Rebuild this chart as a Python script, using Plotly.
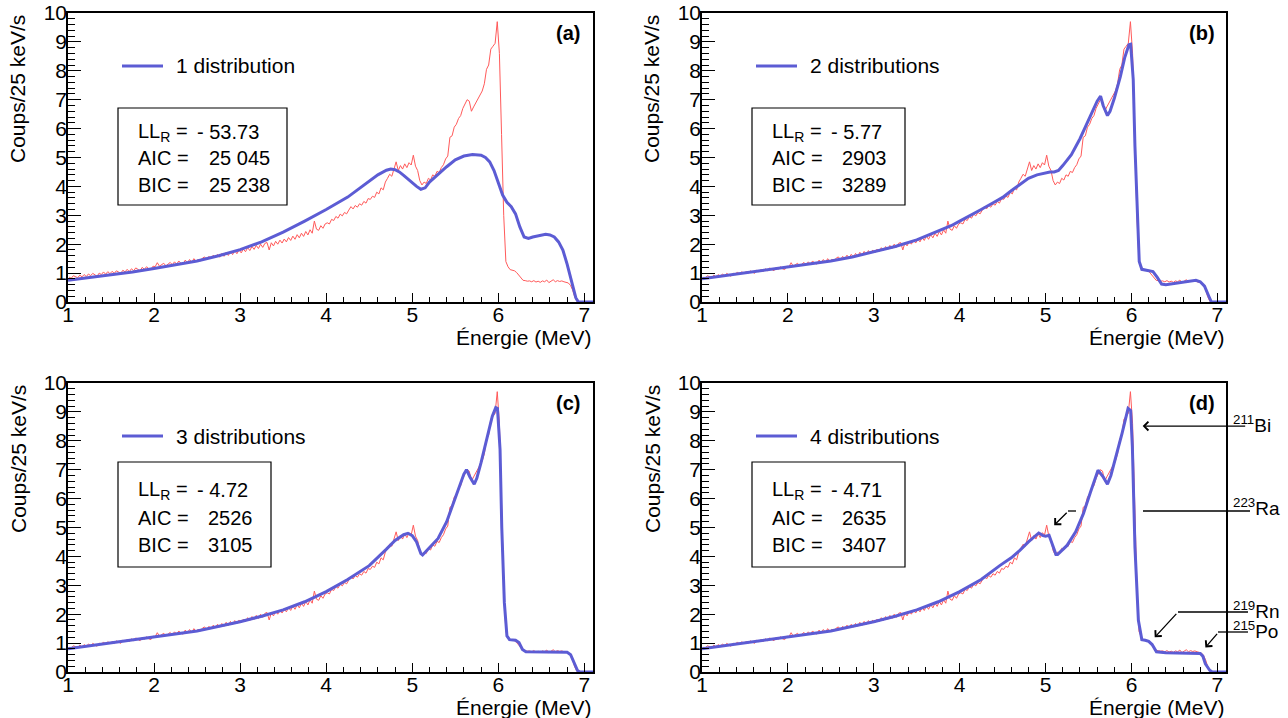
import numpy as np
import plotly.graph_objects as go

# ---------------- DATA ----------------
bin_start = 1.0
bin_width = 0.025  # 25 keV bins

# measured spectrum (counts / 25 keV / s), bins from 1.0 to 7.0 MeV
red_counts = [
    0.86, 0.82, 0.91, 0.86, 0.84, 0.93, 0.87, 0.95, 0.88, 0.97, 0.91, 0.99, 0.93, 0.89, 1.00, 0.95, 1.04, 0.96, 1.05, 0.98,
    1.06, 0.99, 1.08, 1.02, 0.99, 1.10, 1.04, 1.13, 1.05, 1.15, 1.08, 1.18, 1.12, 1.08, 1.20, 1.13, 1.22, 1.15, 1.12, 1.24,
    1.22, 1.36, 1.24, 1.28, 1.34, 1.25, 1.30, 1.37, 1.29, 1.39, 1.31, 1.42, 1.34, 1.31, 1.45, 1.36, 1.47, 1.37, 1.50, 1.40,
    1.48, 1.42, 1.52, 1.56, 1.46, 1.58, 1.50, 1.62, 1.53, 1.65, 1.55, 1.68, 1.58, 1.72, 1.61, 1.75, 1.64, 1.78, 1.67, 1.80,
    1.70, 1.83, 1.74, 1.88, 1.78, 1.92, 1.82, 1.96, 1.85, 2.00, 1.89, 2.03, 2.06, 1.80, 2.05, 1.94, 2.10, 2.00, 2.14, 2.04,
    2.18, 2.08, 2.23, 2.13, 2.28, 2.17, 2.33, 2.22, 2.38, 2.27, 2.44, 2.32, 2.50, 2.38, 2.80, 2.52, 2.48, 2.64, 2.55, 2.70,
    2.74, 2.70, 2.86, 2.82, 2.96, 2.90, 3.04, 2.98, 3.10, 3.05, 3.18, 3.30, 3.22, 3.34, 3.28, 3.40, 3.35, 3.48, 3.42, 3.58,
    3.55, 3.66, 3.62, 3.80, 3.74, 3.95, 3.88, 4.15, 4.28, 4.42, 4.35, 4.62, 4.85, 4.55, 4.72, 4.60, 4.78, 4.65, 4.82, 4.74,
    5.08, 4.70, 4.55, 4.20, 4.05, 4.15, 4.10, 4.28, 4.22, 4.40, 4.35, 4.52, 4.48, 4.65, 4.75, 4.95, 5.05, 5.70, 5.75, 6.05,
    6.15, 6.35, 6.45, 6.70, 6.85, 7.00, 6.95, 6.60, 6.75, 6.90, 7.05, 7.20, 7.30, 7.55, 8.05, 8.20, 8.75, 8.85, 8.95, 9.70,
    8.60, 5.80, 3.00, 1.40, 1.22, 1.12, 1.10, 1.08, 1.02, 0.92, 0.82, 0.75, 0.74, 0.72, 0.73, 0.70, 0.74, 0.69, 0.72, 0.68,
    0.73, 0.70, 0.76, 0.67, 0.72, 0.77, 0.70, 0.74, 0.71, 0.73, 0.70, 0.68, 0.66, 0.58, 0.42, 0.18, 0.02, 0.00, 0.00, 0.00,
]

# fit with 1 distribution
fit1_E = [1.0, 1.25, 1.5, 1.75, 2.0, 2.25, 2.5, 2.75, 3.0, 3.25, 3.5, 3.75, 4.0, 4.25, 4.4, 4.5, 4.6, 4.7, 4.75,
          4.8, 4.85, 4.9, 4.95, 5.0, 5.05, 5.1, 5.15, 5.2, 5.3, 5.4, 5.5, 5.6, 5.7, 5.8, 5.85, 5.9, 5.95, 6.0,
          6.05, 6.1, 6.15, 6.2, 6.25, 6.3, 6.35, 6.4, 6.5, 6.55, 6.6, 6.65, 6.7, 6.75, 6.8, 6.85, 6.9, 6.93, 7.1]
fit1_y = [0.75, 0.84, 0.94, 1.04, 1.16, 1.28, 1.42, 1.60, 1.81, 2.08, 2.42, 2.80, 3.20, 3.63, 3.95, 4.18, 4.40, 4.56, 4.60,
          4.58, 4.50, 4.38, 4.25, 4.12, 4.00, 3.90, 3.95, 4.15, 4.42, 4.68, 4.92, 5.05, 5.10, 5.08, 5.00, 4.85, 4.55, 4.10,
          3.70, 3.45, 3.30, 3.05, 2.60, 2.25, 2.20, 2.25, 2.32, 2.34, 2.32, 2.25, 2.08, 1.80, 1.30, 0.70, 0.15, 0.00, 0.00]

# fit with 2 distributions
fit2_E = [1.0, 1.25, 1.5, 1.75, 2.0, 2.25, 2.5, 2.75, 3.0, 3.25, 3.5, 3.75, 3.9, 4.0, 4.1, 4.25, 4.4, 4.5, 4.6, 4.7,
          4.8, 4.9, 5.0, 5.05, 5.1, 5.15, 5.2, 5.3, 5.4, 5.5, 5.6, 5.64, 5.67, 5.72, 5.75, 5.8, 5.87, 5.92, 5.97, 5.99,
          6.02, 6.04, 6.07, 6.09, 6.12, 6.2, 6.25, 6.3, 6.35, 6.4, 6.5, 6.6, 6.7, 6.75, 6.8, 6.85, 6.9, 6.93, 7.1]
fit2_y = [0.80, 0.90, 1.00, 1.10, 1.20, 1.30, 1.42, 1.56, 1.73, 1.92, 2.15, 2.45, 2.64, 2.80, 2.95, 3.20, 3.45, 3.62, 3.85, 4.08,
          4.28, 4.40, 4.48, 4.50, 4.50, 4.55, 4.72, 5.10, 5.65, 6.30, 6.95, 7.12, 6.80, 6.45, 6.60, 7.05, 7.80, 8.45, 8.90, 8.92,
          7.70, 5.40, 3.10, 1.40, 1.13, 1.08, 1.05, 0.85, 0.62, 0.60, 0.65, 0.70, 0.74, 0.75, 0.70, 0.55, 0.20, 0.00, 0.00]

# fit with 3 distributions
fit3_E = [1.0, 1.5, 2.0, 2.5, 3.0, 3.25, 3.5, 3.75, 4.0, 4.25, 4.5, 4.6, 4.7, 4.8, 4.9, 4.95, 5.0, 5.05, 5.1, 5.12,
          5.2, 5.3, 5.4, 5.5, 5.6, 5.63, 5.67, 5.72, 5.75, 5.8, 5.87, 5.93, 5.97, 5.99, 6.02, 6.04, 6.07, 6.1, 6.13,
          6.2, 6.24, 6.28, 6.32, 6.5, 6.7, 6.8, 6.84, 6.88, 6.92, 6.95, 7.1]
fit3_y = [0.80, 1.00, 1.20, 1.42, 1.74, 1.93, 2.15, 2.43, 2.78, 3.20, 3.68, 3.95, 4.25, 4.55, 4.75, 4.80, 4.72, 4.50, 4.10, 4.05,
          4.30, 4.62, 5.20, 6.05, 6.85, 7.00, 6.75, 6.50, 6.70, 7.25, 8.10, 8.85, 9.15, 9.12, 7.70, 5.00, 2.40, 1.25, 1.12,
          1.10, 1.02, 0.78, 0.70, 0.70, 0.70, 0.68, 0.60, 0.35, 0.05, 0.00, 0.00]

# fit with 4 distributions
fit4_E = [1.0, 1.5, 2.0, 2.5, 3.0, 3.25, 3.5, 3.75, 4.0, 4.25, 4.47, 4.6, 4.7, 4.8, 4.92, 4.97, 5.0, 5.04, 5.08, 5.12,
          5.14, 5.25, 5.35, 5.44, 5.52, 5.61, 5.67, 5.72, 5.76, 5.81, 5.89, 5.96, 5.99, 6.01, 6.04, 6.08, 6.12, 6.16,
          6.2, 6.24, 6.29, 6.4, 6.6, 6.8, 6.83, 6.86, 6.91, 6.94, 7.1]
fit4_y = [0.80, 1.00, 1.20, 1.42, 1.74, 1.93, 2.15, 2.43, 2.78, 3.20, 3.69, 3.95, 4.21, 4.50, 4.81, 4.72, 4.70, 4.73, 4.40, 4.07,
          4.07, 4.38, 4.85, 5.48, 6.20, 6.98, 6.75, 6.50, 6.80, 7.33, 8.26, 9.12, 9.05, 7.79, 4.33, 1.79, 1.12, 1.10,
          1.06, 0.95, 0.70, 0.67, 0.66, 0.64, 0.55, 0.28, 0.06, 0.00, 0.00]

panel_tags = ["(a)", "(b)", "(c)", "(d)"]
legend_labels = ["1 distribution", "2 distributions", "3 distributions", "4 distributions"]
ll_values = ["- 53.73", "- 5.77", "- 4.72", "- 4.71"]
aic_values = ["25 045", "2903", "2526", "2635"]
bic_values = ["25 238", "3289", "3105", "3407"]

x_ticks = [1, 2, 3, 4, 5, 6, 7]
y_ticks = [0, 1, 2, 3, 4, 5, 6, 7, 8, 9, 10]

# nuclide annotations (panel d): label, arrow head (E, counts)
nuclides = ["<sup>211</sup>Bi", "<sup>223</sup>Ra", "<sup>219</sup>Rn", "<sup>215</sup>Po"]
nuclide_heads_E = [6.13, 5.10, 6.27, 6.86]
nuclide_heads_y = [8.51, 5.08, 1.20, 0.85]

# ---------------- LAYOUT ----------------
W, H = 1288, 718
FONT = "Liberation Sans, Arial, Helvetica, sans-serif"
RED = "rgb(255,90,90)"
BLUE = "rgb(92,92,212)"


def px(x):
    return x / W


def py(y):
    return 1 - y / H


panels = [(68, 13, 593, 302), (702, 13, 1226, 302), (68, 383, 593, 672), (702, 383, 1226, 672)]
fits = [(fit1_E, fit1_y), (fit2_E, fit2_y), (fit3_E, fit3_y), (fit4_E, fit4_y)]

bin_centers = bin_start + bin_width * (np.arange(len(red_counts)) + 0.5)

fig = go.Figure()
annotations = []
shapes = []
layout_axes = {}

for i, (l, t, r, b) in enumerate(panels):
    n = "" if i == 0 else str(i + 1)
    xa, ya = "x" + n, "y" + n
    fig.add_trace(go.Scatter(x=bin_centers, y=red_counts, mode="lines",
                             line=dict(color=RED, width=1), xaxis=xa, yaxis=ya,
                             showlegend=False, hoverinfo="skip"))
    fe, fy = fits[i]
    fig.add_trace(go.Scatter(x=fe, y=fy, mode="lines",
                             line=dict(color=BLUE, width=3), xaxis=xa, yaxis=ya,
                             showlegend=False, name=legend_labels[i]))

    tickfont = dict(family=FONT, size=21, color="black")
    layout_axes["xaxis" + n] = dict(
        domain=[px(l), px(r)], anchor=ya, range=[1, 7.1], automargin=False,
        tickmode="array", tickvals=x_ticks, ticktext=[str(v) for v in x_ticks],
        ticks="inside", ticklen=9, tickwidth=1.3, tickcolor="black", ticklabelstandoff=-7,
        minor=dict(tickmode="linear", tick0=1, dtick=0.2, ticks="inside", ticklen=5,
                   tickwidth=1, tickcolor="black", showgrid=False),
        showline=True, linecolor="black", linewidth=1.5, mirror=True,
        showgrid=False, zeroline=False, tickfont=tickfont, fixedrange=True)
    layout_axes["yaxis" + n] = dict(
        domain=[py(b), py(t)], anchor=xa, range=[0, 10], automargin=False,
        tickmode="array", tickvals=y_ticks, ticktext=[str(v) for v in y_ticks],
        ticks="inside", ticklen=13, tickwidth=1.3, tickcolor="black", ticklabelstandoff=-5,
        minor=dict(tickmode="linear", tick0=0, dtick=0.2, ticks="inside", ticklen=7,
                   tickwidth=1, tickcolor="black", showgrid=False),
        showline=True, linecolor="black", linewidth=1.5, mirror=True,
        showgrid=False, zeroline=False, tickfont=tickfont, fixedrange=True)

    # axis titles
    annotations.append(dict(text="Énergie (MeV)", xref="paper", yref="paper",
                            x=px(r), y=py(b + 35), xanchor="right", yanchor="middle",
                            showarrow=False, font=dict(family=FONT, size=21, color="black")))
    annotations.append(dict(text="Coups/25 keV/s", xref="paper", yref="paper",
                            x=px(l - 50), y=py(t), xanchor="center", yanchor="top", textangle=-90,
                            showarrow=False, font=dict(family=FONT, size=21, color="black")))
    # panel tag
    annotations.append(dict(text="<b>" + panel_tags[i] + "</b>", xref="paper", yref="paper",
                            x=px(l + 500), y=py(t + 20), xanchor="center", yanchor="middle",
                            showarrow=False, font=dict(family=FONT, size=20, color="black")))
    # legend
    shapes.append(dict(type="line", xref="paper", yref="paper",
                       x0=px(l + 54), x1=px(l + 95), y0=py(t + 53), y1=py(t + 53),
                       line=dict(color=BLUE, width=3)))
    annotations.append(dict(text=legend_labels[i], xref="paper", yref="paper",
                            x=px(l + 106), y=py(t + 53), xanchor="left", yanchor="middle",
                            showarrow=False, font=dict(family=FONT, size=21, color="black")))
    # stats box
    top_panel = i < 2
    bw = 169 if i == 0 else 153
    b0, b1 = (95, 192) if top_panel else (79, 184)
    rows = (119, 145, 172) if top_panel else (107, 135, 162)
    shapes.append(dict(type="rect", xref="paper", yref="paper",
                       x0=px(l + 50), x1=px(l + 50 + bw), y0=py(t + b1), y1=py(t + b0),
                       line=dict(color="black", width=1.2), fillcolor="white", layer="above"))
    sfont = dict(family=FONT, size=20, color="black")
    for lab, val, yy, vx in [("LL<sub>R</sub> =", ll_values[i], rows[0], 127),
                             ("AIC =", aic_values[i], rows[1], 139 if i == 0 else 138),
                             ("BIC =", bic_values[i], rows[2], 139 if i == 0 else 138)]:
        annotations.append(dict(text=lab, xref="paper", yref="paper", x=px(l + 68), y=py(t + yy),
                                xanchor="left", yanchor="middle", showarrow=False, font=sfont))
        annotations.append(dict(text=val, xref="paper", yref="paper", x=px(l + vx), y=py(t + yy),
                                xanchor="left", yanchor="middle", showarrow=False, font=sfont))

# nuclide labels in panel (d)
lfont = dict(family=FONT, size=19, color="black")
label_y = [424, 507, 610, 630]
for k, lab in enumerate(nuclides):
    annotations.append(dict(text=lab, xref="paper", yref="paper", x=px(1231), y=py(label_y[k]),
                            xanchor="left", yanchor="middle", showarrow=False, font=lfont))

# arrows (heads in data coordinates of panel d, tails as pixel offsets)
arrow_tails = [(104, 0), (14, -14), (23, -25), (13, -15)]
for k in range(4):
    annotations.append(dict(text="", xref="x4", yref="y4", x=nuclide_heads_E[k], y=nuclide_heads_y[k],
                            ax=arrow_tails[k][0], ay=arrow_tails[k][1], showarrow=True,
                            arrowhead=4, arrowsize=1.3, arrowwidth=1.3, arrowcolor="black",
                            standoff=0, startstandoff=0))
# horizontal leader segments
for (x0, x1, yy) in [(1143, 1250, 511), (1068, 1076, 511), (1178, 1248, 612), (1218, 1248, 632)]:
    shapes.append(dict(type="line", xref="paper", yref="paper", x0=px(x0), x1=px(x1),
                       y0=py(yy), y1=py(yy), line=dict(color="black", width=1.3)))

fig.update_layout(width=W, height=H, margin=dict(l=0, r=0, t=0, b=0, pad=0, autoexpand=False),
                  autosize=False,
                  paper_bgcolor="white", plot_bgcolor="white", showlegend=False,
                  annotations=annotations, shapes=shapes, **layout_axes)

fig.write_html("out.html", config={"responsive": False, "displayModeBar": False},
               post_script="document.body.style.margin='0px';document.body.style.padding='0px';")
